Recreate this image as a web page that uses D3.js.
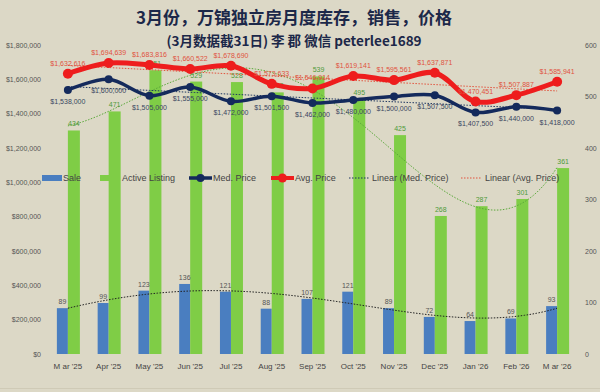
<!DOCTYPE html>
<html><head><meta charset="utf-8">
<script src="https://cdn.jsdelivr.net/npm/d3@7"></script>
<style>
html,body{margin:0;padding:0;background:#dcd8c6;}
svg{display:block;}
</style></head>
<body>
<svg id="c" width="600" height="392"></svg>
<script>
const categories = ["M ar '25","Apr '25","May '25","Jun '25","Jul '25","Aug '25","Sep '25","Oct '25","Nov '25","Dec '25","Jan '26","Feb '26","M ar '26"];
const sales = [89, 99, 123, 136, 121, 88, 107, 121, 89, 72, 64, 69, 93];
const activeListing = [434, 471, 551, 529, 528, 508, 539, 495, 425, 268, 287, 301, 361];
const medPrice = [1538000, 1600000, 1505000, 1555000, 1472000, 1501500, 1462000, 1480000, 1500000, 1507500, 1407500, 1440000, 1418000];
const avgPrice = [1632616, 1694639, 1683816, 1660522, 1678690, 1573633, 1546914, 1619141, 1595561, 1637871, 1470451, 1507887, 1585941];
const leftTicks = [0, 200000, 400000, 600000, 800000, 1000000, 1200000, 1400000, 1600000, 1800000];
const rightTicks = [0, 100, 200, 300, 400, 500, 600];
const legendItems = ["Sale", "Active Listing", "Med. Price", "Avg. Price", "Linear (Med. Price)", "Linear (Avg. Price)"];

(function () {
const svg = d3.select("#c");
const W = 600, H = 392;
svg.append("rect").attr("width", W).attr("height", H).attr("fill", "#dcd8c6");
svg.append("line").attr("x1",0).attr("x2",W).attr("y1",388.5).attr("y2",388.5).attr("stroke","#cfcab6").attr("stroke-width",1);

const yTop = 45, yBot = 354;
const x = d3.scaleBand().domain(categories).range([47.5, 577.5]).padding(0);
const cx = c => x(c) + x.bandwidth() / 2;
const yL = d3.scaleLinear().domain([0, 1800000]).range([yBot, yTop]);
const yR = d3.scaleLinear().domain([0, 600]).range([yBot, yTop]);

// Title
svg.append("text").attr("x", 294).attr("y", 24).attr("text-anchor", "middle")
  .attr("font-family", "'Noto Sans CJK SC', sans-serif").attr("font-weight", "bold")
  .attr("font-size", 17).attr("fill", "#1c2849").text("3月份，万锦独立房月度库存，销售，价格");
svg.append("text").attr("x", 294).attr("y", 46).attr("text-anchor", "middle")
  .attr("font-family", "'Noto Sans CJK SC', sans-serif").attr("font-weight", "bold")
  .attr("font-size", 13.5).attr("fill", "#1c2849").text("(3月数据截31日) 李 郡 微信 peterlee1689");

// Axes
const fmtMoney = d => "$" + d3.format(",")(d);
const axL = d3.axisLeft(yL).tickValues(leftTicks).tickFormat(fmtMoney).tickSize(0).tickPadding(0);
const gL = svg.append("g").attr("transform", "translate(41,0)").call(axL);
gL.select(".domain").remove();
gL.selectAll("text").attr("font-family", "'Liberation Sans', sans-serif").attr("font-size", 7).attr("fill", "#555");

const axR = d3.axisRight(yR).tickValues(rightTicks).tickSize(0).tickPadding(0);
const gR = svg.append("g").attr("transform", "translate(585,0)").call(axR);
gR.select(".domain").remove();
gR.selectAll("text").attr("font-family", "'Liberation Sans', sans-serif").attr("font-size", 7).attr("fill", "#555");

const axB = d3.axisBottom(x).tickSize(0).tickPadding(0);
const gB = svg.append("g").attr("transform", "translate(0,363)").call(axB);
gB.select(".domain").remove();
gB.selectAll("text").attr("font-family", "'Liberation Sans', sans-serif").attr("font-size", 8).attr("fill", "#444");

// Bars
const blue = "#4a7ec0", green = "#7fcd46";
svg.append("g").selectAll("rect").data(sales).join("rect")
  .attr("x", (d, i) => cx(categories[i]) - 11).attr("width", 11)
  .attr("y", d => yR(d)).attr("height", d => yBot - yR(d)).attr("fill", blue);
svg.append("g").selectAll("rect").data(activeListing).join("rect")
  .attr("x", (d, i) => cx(categories[i])).attr("width", 12)
  .attr("y", d => yR(d)).attr("height", d => yBot - yR(d)).attr("fill", green);

// polynomial fit (least squares, x = 1..n as Excel does)
function polyfit(ys, order) {
  const n = ys.length, m = order + 1;
  const A = Array.from({length: m}, () => new Array(m + 1).fill(0));
  for (let i = 0; i < n; i++) {
    const xi = i + 1;
    for (let r = 0; r < m; r++) {
      for (let c = 0; c < m; c++) A[r][c] += Math.pow(xi, r + c);
      A[r][m] += ys[i] * Math.pow(xi, r);
    }
  }
  for (let k = 0; k < m; k++) {
    let p = k;
    for (let r = k + 1; r < m; r++) if (Math.abs(A[r][k]) > Math.abs(A[p][k])) p = r;
    const tmp = A[k]; A[k] = A[p]; A[p] = tmp;
    for (let r = 0; r < m; r++) {
      if (r === k) continue;
      const f = A[r][k] / A[k][k];
      for (let c = k; c <= m; c++) A[r][c] -= f * A[k][c];
    }
  }
  const coef = A.map((row, k) => row[m] / row[k]);
  return t => coef.reduce((s, c, k) => s + c * Math.pow(t, k), 0);
}
const xt = t => cx(categories[0]) + (t - 1) * x.bandwidth();
const samples = d3.range(1, categories.length + 0.001, 0.1);

function trend(ys, order, yScale, color, dash, width) {
  const f = polyfit(ys, order);
  svg.append("path").datum(samples)
    .attr("d", d3.line().x(t => xt(t)).y(t => yScale(f(t))))
    .attr("fill", "none").attr("stroke", color).attr("stroke-width", width).attr("stroke-dasharray", dash);
}
trend(activeListing, 4, yR, "#5aa83a", "1.5,1.5", 1);
trend(sales, 4, yR, "#222", "1.5,1.5", 1);

// bar labels
const lblFont = "'Liberation Sans', sans-serif";
svg.append("g").selectAll("text").data(sales).join("text")
  .attr("x", (d, i) => cx(categories[i]) - 5.5).attr("y", d => yR(d) - 4)
  .attr("text-anchor", "middle").attr("font-family", lblFont).attr("font-size", 7).attr("fill", "#555")
  .text(d => d);
svg.append("g").selectAll("text").data(activeListing).join("text")
  .attr("x", (d, i) => cx(categories[i]) + 6).attr("y", d => yR(d) - 4)
  .attr("text-anchor", "middle").attr("font-family", lblFont).attr("font-size", 7).attr("fill", "#4f9a3a")
  .text(d => d);

// linear trend lines of prices
trend(medPrice, 1, yL, "#1d3560", "1.5,1.5", 1);
trend(avgPrice, 1, yL, "#e2523c", "1.5,1.5", 1);

// price lines
const curve = d3.curveCatmullRom.alpha(0.5);
const lineL = d3.line().x((d, i) => cx(categories[i])).y(d => yL(d)).curve(curve);
const navy = "#142a5c", red = "#ee1d1d";
svg.append("path").datum(avgPrice).attr("d", lineL).attr("fill", "none").attr("stroke", red).attr("stroke-width", 5);
svg.append("g").selectAll("circle").data(avgPrice).join("circle")
  .attr("cx", (d, i) => cx(categories[i])).attr("cy", d => yL(d)).attr("r", 5).attr("fill", red);
svg.append("path").datum(medPrice).attr("d", lineL).attr("fill", "none").attr("stroke", navy).attr("stroke-width", 3.5);
svg.append("g").selectAll("circle").data(medPrice).join("circle")
  .attr("cx", (d, i) => cx(categories[i])).attr("cy", d => yL(d)).attr("r", 4).attr("fill", navy);

svg.append("g").selectAll("text").data(avgPrice).join("text")
  .attr("x", (d, i) => cx(categories[i])).attr("y", d => yL(d) - 8)
  .attr("text-anchor", "middle").attr("font-family", lblFont).attr("font-size", 7).attr("fill", "#e0523e")
  .text(d => fmtMoney(d));
svg.append("g").selectAll("text").data(medPrice).join("text")
  .attr("x", (d, i) => cx(categories[i])).attr("y", d => yL(d) + 14)
  .attr("text-anchor", "middle").attr("font-family", lblFont).attr("font-size", 7).attr("fill", "#3a4660")
  .text(d => fmtMoney(d));

// Legend
const ly = 178;
const lg = svg.append("g").attr("font-family", "'Liberation Sans', sans-serif").attr("font-size", 9).attr("fill", "#444");
const legX = [42, 100, 189, 271, 349, 461];
const legT = [63, 122, 213, 295, 372, 485];
lg.append("rect").attr("x", legX[0]).attr("y", ly - 3).attr("width", 20).attr("height", 6).attr("fill", blue);
lg.append("rect").attr("x", legX[1]).attr("y", ly - 3).attr("width", 20).attr("height", 6).attr("fill", green);
lg.append("line").attr("x1", legX[2]).attr("x2", legX[2] + 23).attr("y1", ly).attr("y2", ly).attr("stroke", navy).attr("stroke-width", 3.5);
lg.append("circle").attr("cx", legX[2] + 11.5).attr("cy", ly).attr("r", 4).attr("fill", navy);
lg.append("line").attr("x1", legX[3]).attr("x2", legX[3] + 23).attr("y1", ly).attr("y2", ly).attr("stroke", red).attr("stroke-width", 4);
lg.append("circle").attr("cx", legX[3] + 11.5).attr("cy", ly).attr("r", 4.5).attr("fill", red);
lg.append("line").attr("x1", legX[4]).attr("x2", legX[4] + 20).attr("y1", ly).attr("y2", ly).attr("stroke", "#1d3560").attr("stroke-width", 1).attr("stroke-dasharray", "1.5,1.5");
lg.append("line").attr("x1", legX[5]).attr("x2", legX[5] + 20).attr("y1", ly).attr("y2", ly).attr("stroke", "#e2523c").attr("stroke-width", 1).attr("stroke-dasharray", "1.5,1.5");
lg.selectAll("text.l").data(legendItems).join("text").attr("class", "l")
  .attr("x", (d, i) => legT[i]).attr("y", ly + 3.2).text(d => d);
})();
</script>
</body></html>
